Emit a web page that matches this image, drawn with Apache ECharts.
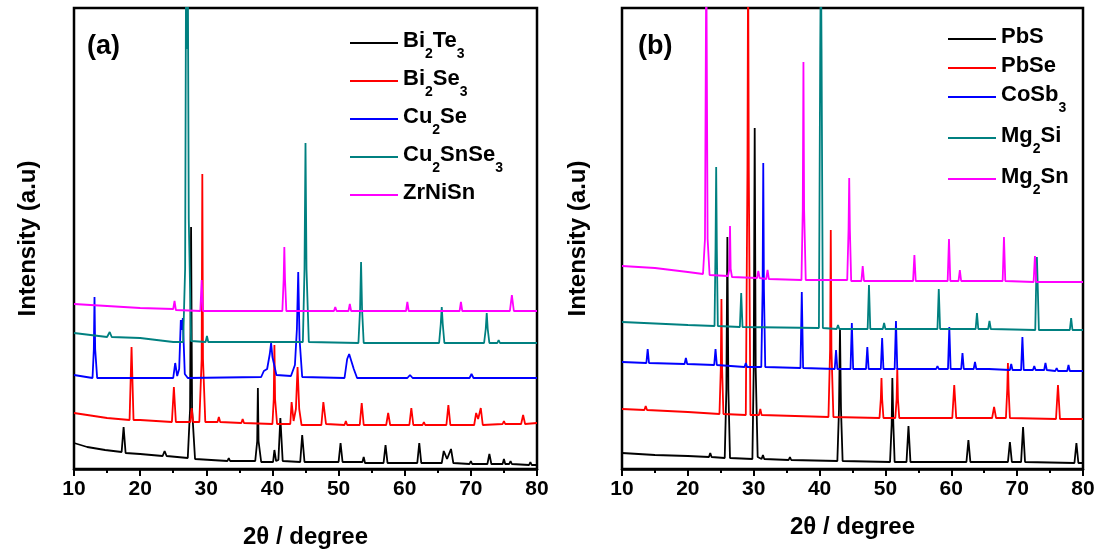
<!DOCTYPE html>
<html>
<head>
<meta charset="utf-8">
<script src="https://cdn.jsdelivr.net/npm/echarts@6/dist/echarts.min.js"></script>
<style>
  html, body { margin: 0; padding: 0; background: #fff; }
  #chart { width: 1104px; height: 559px; }
</style>
</head>
<body>
<div id="chart"></div>
<script>
// XRD patterns, [2θ (degree), intensity (a.u., stacked)]
// Panel (a)
const bi2te3 = [[10,26],[12,22],[14.7,19],[17.2,17],[17.5,42],[17.8,16],[20,15],[23.4,13],[23.7,18],[24.0,13],[27.2,11],[27.55,60],[27.7,242],[27.85,60],[28.3,10],[33.2,8],[33.4,11],[33.6,8],[37.4,8],[37.7,28],[37.8,81],[37.9,28],[38.3,7],[40.1,7],[40.3,19],[40.55,8],[40.9,9],[41.2,51],[41.55,8],[44.2,7],[44.5,34],[44.85,7],[50.0,7],[50.3,26],[50.6,7],[53.6,7],[53.8,12],[54.0,6],[56.8,6],[57.1,24],[57.4,6],[61.9,6],[62.2,26],[62.5,6],[65.6,6],[65.9,18],[66.4,10],[67.0,20],[67.35,6],[69.8,5],[70.0,8],[70.2,5],[72.5,5],[72.8,15],[73.1,5],[74.8,5],[75.0,10],[75.2,5],[75.8,5],[76.0,8],[76.2,5],[78.8,4],[79.0,7],[79.2,4],[80,4]];
const bi2se3 = [[10,56],[15,51],[18.4,49],[18.7,122],[19.0,49],[20,49],[24.8,47],[25.1,82],[25.4,47],[27.6,47],[27.8,61],[28.0,47],[28.95,47],[29.3,110],[29.4,295],[29.5,110],[29.85,47],[31.7,47],[31.9,52],[32.1,47],[35.3,46],[35.5,50],[35.7,46],[40.0,45],[40.2,70],[40.3,124],[40.4,70],[40.7,45],[42.7,45],[42.9,67],[43.2,48],[43.55,60],[43.8,102],[44.05,60],[44.4,44],[47.4,44],[47.7,67],[48.1,45],[50.9,44],[51.1,48],[51.3,44],[53.2,44],[53.5,66],[53.8,44],[57.2,44],[57.5,56],[57.8,44],[60.7,44],[61.0,61],[61.3,44],[62.7,44],[62.9,47],[63.1,44],[66.3,44],[66.6,64],[66.9,44],[70.5,44],[70.8,56],[71.1,50],[71.5,61],[71.8,44],[74.8,45],[75.0,48],[75.2,45],[77.6,45],[77.9,54],[78.2,45],[80,46]];
const cu2se = [[10,94],[12.8,91],[13.0,120],[13.1,172],[13.2,120],[13.5,91],[25.0,91],[25.3,106],[25.6,93],[25.9,100],[26.15,149],[26.3,139],[26.45,151],[26.75,95],[27.2,91],[38.3,92],[38.7,98],[39.2,100],[39.6,115],[39.8,126],[40.0,112],[40.2,111],[40.6,94],[42.8,93],[43.4,104],[43.7,140],[43.9,197],[44.1,130],[44.5,92],[50.9,91],[51.3,110],[51.6,115],[51.9,114],[52.3,100],[52.8,91],[60.4,91],[60.8,94],[61.2,91],[69.8,91],[70.1,95],[70.4,91],[71.3,91],[71.5,93],[71.7,91],[80,91]];
const cu2snse3 = [[10,136],[15,132],[15.4,137],[15.7,132],[20,131],[25,127],[26.5,127],[26.8,200],[26.95,520],[27.1,420],[27.2,520],[27.35,250],[27.7,128],[29.9,127],[30.1,133],[30.3,127],[44.6,127],[44.85,200],[45.0,326],[45.15,200],[45.5,127],[53.0,126],[53.25,160],[53.4,207],[53.55,160],[53.8,126],[65.2,126],[65.45,145],[65.6,162],[65.75,145],[66.0,126],[72.0,126],[72.25,140],[72.4,156],[72.55,140],[72.8,126],[74.0,126],[74.2,129],[74.4,126],[80,126]];
const zrnisn = [[10,165],[20,161],[25.0,160],[25.2,168],[25.4,159],[29.1,158],[29.3,189],[29.5,158],[41.5,158],[41.7,190],[41.8,222],[41.9,190],[42.1,158],[49.3,158],[49.5,162],[49.7,158],[51.5,158],[51.7,165],[51.9,158],[60.2,158],[60.4,167],[60.6,158],[68.3,158],[68.5,167],[68.7,158],[75.9,158],[76.2,174],[76.5,158],[80,158]];

// Panel (b)
const pbs = [[10,16],[15,14],[20,13],[23.2,12],[23.4,16],[23.6,12],[25.6,11],[25.85,80],[26.0,232],[26.15,80],[26.4,11],[29.8,10],[30.0,100],[30.15,341],[30.3,100],[30.6,12],[31.2,10],[31.4,14],[31.6,10],[35.3,9],[35.5,12],[35.7,9],[42.7,8],[42.95,60],[43.1,140],[43.25,60],[43.5,8],[50.7,7],[50.95,45],[51.05,91],[51.2,45],[51.4,7],[53.2,7],[53.5,43],[53.8,7],[62.3,7],[62.6,29],[62.9,7],[68.6,7],[68.9,27],[69.2,7],[70.6,7],[70.9,42],[71.2,7],[78.7,6],[79.0,26],[79.3,6],[80,6]];
const pbse = [[10,60],[13.4,59],[13.6,63],[13.8,59],[20,57],[24.8,55],[25.0,100],[25.1,170],[25.2,100],[25.4,55],[28.8,54],[29.05,300],[29.15,520],[29.25,300],[29.5,54],[30.8,54],[31.0,60],[31.2,54],[41.35,52],[41.6,120],[41.7,239],[41.8,120],[42.1,52],[49.1,51],[49.3,70],[49.4,91],[49.5,70],[49.7,51],[51.5,51],[51.7,70],[51.8,101],[51.9,70],[52.1,51],[60.15,51],[60.45,84],[60.75,51],[66.2,51],[66.5,62],[66.8,51],[68.3,51],[68.5,80],[68.6,106],[68.7,80],[68.9,51],[75.9,50],[76.2,84],[76.5,50],[80,50]];
const cosb3 = [[10,107],[13.7,106],[13.9,120],[14.1,106],[19.5,105],[19.7,111],[19.9,105],[24.0,104],[24.2,120],[24.4,104],[28.6,102],[28.8,106],[29.0,102],[31.15,102],[31.35,180],[31.45,306],[31.55,180],[31.75,102],[37.1,101],[37.3,177],[37.5,101],[42.3,100],[42.5,119],[42.7,100],[44.7,100],[44.9,146],[45.1,100],[47.05,100],[47.25,122],[47.45,100],[49.3,100],[49.5,131],[49.7,100],[51.4,100],[51.6,148],[51.8,100],[57.7,100],[57.9,103],[58.1,100],[59.5,100],[59.7,142],[59.9,100],[61.5,100],[61.7,116],[61.9,100],[63.4,100],[63.6,107],[63.8,100],[65.3,100],[65.5,102],[65.7,100],[68.9,99],[69.1,105],[69.3,99],[70.6,99],[70.8,132],[71.0,99],[72.4,99],[72.6,103],[72.8,99],[74.1,99],[74.3,106],[74.5,99],[75.8,98],[76.0,101],[76.2,98],[77.6,98],[77.8,104],[78.0,98],[80,98]];
const mg2si = [[10,147],[20,144],[24.05,143],[24.2,220],[24.3,302],[24.4,220],[24.55,143],[27.9,142],[28.1,176],[28.3,142],[39.9,141],[40.1,420],[40.2,520],[40.3,420],[40.5,141],[42.6,140],[42.8,144],[43.0,140],[47.3,140],[47.5,184],[47.7,140],[49.6,140],[49.8,146],[50.0,140],[57.9,140],[58.1,180],[58.3,140],[62.1,140],[62.3,142],[62.5,140],[63.7,140],[63.9,156],[64.1,140],[65.6,140],[65.8,148],[66.0,140],[72.75,139],[72.9,190],[73.0,212],[73.1,190],[73.3,139],[78.0,139],[78.2,151],[78.4,139],[80,139]];
const mg2sn = [[10,203],[15,201],[20,197],[22.3,195],[22.6,230],[22.8,520],[23.0,230],[23.3,194],[26.1,193],[26.3,200],[26.4,243],[26.5,200],[26.7,192],[30.5,191],[30.7,198],[30.9,191],[31.9,190],[32.1,199],[32.3,190],[37.25,189],[37.45,260],[37.55,407],[37.65,260],[37.9,189],[44.2,189],[44.4,240],[44.5,291],[44.6,240],[44.8,188],[46.35,188],[46.55,203],[46.75,188],[54.2,188],[54.4,214],[54.6,188],[59.45,188],[59.65,230],[59.85,188],[61.1,188],[61.3,199],[61.5,188],[67.8,188],[68.0,232],[68.2,188],[72.5,187],[72.7,213],[72.9,187],[80,187]];

const namesA = ['Bi2Te3', 'Bi2Se3', 'Cu2Se', 'Cu2SnSe3', 'ZrNiSn'];
const namesB = ['PbS', 'PbSe', 'CoSb3', 'Mg2Si', 'Mg2Sn'];
const dataA = [bi2te3, bi2se3, cu2se, cu2snse3, zrnisn];
const dataB = [pbs, pbse, cosb3, mg2si, mg2sn];
const colors = ['#000000', '#ff0000', '#0000ff', '#008080', '#ff00ff'];
const xTicks = [10, 20, 30, 40, 50, 60, 70, 80];

const FONT = 'Liberation Sans, Arial, sans-serif';

// chemical formula -> rich text with subscripted digits
function formula(name) {
  return name.split(/(\d+)/).filter(Boolean)
    .map(p => /^\d+$/.test(p) ? '{s|' + p + '}' : '{n|' + p + '}').join('');
}

const richStyles = {
  n: { fontSize: 22, fontWeight: 'bold', fontFamily: FONT, color: '#000', lineHeight: 26, verticalAlign: 'top' },
  s: { fontSize: 14, fontWeight: 'bold', fontFamily: FONT, color: '#000', lineHeight: 14, padding: [17, 0, 3, 0], verticalAlign: 'top' }
};

function makeXAxis(gridIndex, nameGap) {
  return {
    type: 'value', gridIndex: gridIndex, min: 10, max: 80, interval: 10,
    name: '2θ / degree', nameLocation: 'middle', nameGap: nameGap,
    nameTextStyle: { fontSize: 24, fontWeight: 'bold', fontFamily: FONT, color: '#000' },
    axisLine: { show: true, onZero: false, lineStyle: { color: '#000', width: 2.5 } },
    axisTick: { show: true, length: 7, lineStyle: { color: '#000', width: 2 } },
    minorTick: { show: true, splitNumber: 2, length: 4, lineStyle: { color: '#000', width: 2 } },
    axisLabel: { fontSize: 21, fontWeight: 'bold', fontFamily: FONT, color: '#000', margin: 10,
      formatter: v => xTicks.includes(v) ? String(v) : '' },
    splitLine: { show: false }
  };
}

function makeYAxis(gridIndex, nameGap) {
  return {
    type: 'value', gridIndex: gridIndex, min: 0, max: 461,
    name: 'Intensity (a.u)', nameLocation: 'middle', nameGap: nameGap, nameRotate: 90,
    nameTextStyle: { fontSize: 24, fontWeight: 'bold', fontFamily: FONT, color: '#000' },
    axisLine: { show: false }, axisTick: { show: false }, axisLabel: { show: false },
    splitLine: { show: false }
  };
}

function makeSeries(names, datas, axisIndex) {
  return names.map((n, i) => ({
    name: n, type: 'line', xAxisIndex: axisIndex, yAxisIndex: axisIndex,
    data: datas[i], showSymbol: false, symbol: 'none', clip: true,
    lineStyle: { color: colors[i], width: 1.8 }, itemStyle: { color: colors[i] },
    animation: false
  }));
}

function makeLegend(names, left, top, gap) {
  return {
    data: names, orient: 'vertical', left: left, top: top,
    icon: 'rect', itemWidth: 48, itemHeight: 2, itemGap: gap,
    formatter: formula,
    textStyle: { rich: richStyles, color: '#000' },
    selectedMode: false
  };
}

const chart = echarts.init(document.getElementById('chart'), null, { renderer: 'canvas' });
chart.setOption({
  backgroundColor: '#ffffff',
  animation: false,
  grid: [
    { left: 74, top: 8, width: 463, height: 461, show: true, borderColor: '#000', borderWidth: 2.5, backgroundColor: 'transparent' },
    { left: 622, top: 8, width: 461, height: 461, show: true, borderColor: '#000', borderWidth: 2.5, backgroundColor: 'transparent' }
  ],
  xAxis: [makeXAxis(0, 56), makeXAxis(1, 46)],
  yAxis: [makeYAxis(0, 34), makeYAxis(1, 32)],
  legend: [makeLegend(namesA, 345, 25, 4), makeLegend(namesB, 943, 21, 7)],
  series: makeSeries(namesA, dataA, 0).concat(makeSeries(namesB, dataB, 1)),
  graphic: [
    { type: 'text', left: 87, top: 33, style: { text: '(a)', font: 'bold 27px ' + FONT, fill: '#000' } },
    { type: 'text', left: 638, top: 33, style: { text: '(b)', font: 'bold 27px ' + FONT, fill: '#000' } }
  ]
});
</script>
</body>
</html>
